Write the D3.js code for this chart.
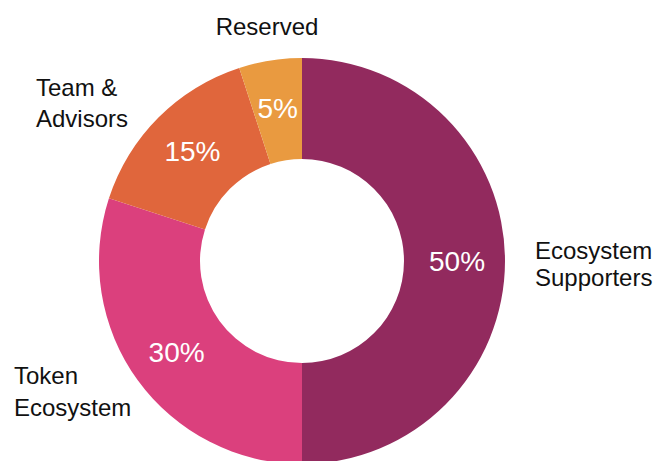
<!DOCTYPE html>
<html lang="en">
<head>
    <meta charset="UTF-8">
    <title>Token Allocation</title>
    <script src="https://d3js.org/d3.v7.min.js"></script>
    <style>
        body { margin: 0; background: #ffffff; }
        svg { display: block; }
        .pct { fill: #ffffff; font-family: "Liberation Sans", Arial, sans-serif; font-size: 28px; }
        .name { fill: #111111; font-family: "Liberation Sans", Arial, sans-serif; font-size: 24px; }
    </style>
</head>
<body>
    <svg width="662" height="461"></svg>

    <script>
        // data
        const categories = ["Ecosystem Supporters", "Token Ecosystem", "Team & Advisors", "Reserved"];
        const shares = [50, 30, 15, 5];
        const colors = ["#922a5e", "#db407d", "#e0663c", "#e99a40"];

        const svg = d3.select("svg");
        const cx = 302, cy = 261;
        const outerR = 203, innerR = 102;

        const data = categories.map((c, i) => ({ name: c, value: shares[i], color: colors[i] }));
        const pie = d3.pie().value(d => d.value).sort(null);
        const arc = d3.arc().innerRadius(innerR).outerRadius(outerR);
        const labelArc = d3.arc().innerRadius(155).outerRadius(155);

        const g = svg.append("g").attr("transform", `translate(${cx},${cy})`);
        const arcs = pie(data);

        g.selectAll("path")
            .data(arcs)
            .join("path")
            .attr("d", arc)
            .attr("fill", d => d.data.color);

        g.selectAll("text.pct")
            .data(arcs)
            .join("text")
            .attr("class", "pct")
            .attr("text-anchor", "middle")
            .attr("dy", "0.36em")
            .attr("transform", d => `translate(${labelArc.centroid(d)})`)
            .text(d => d.data.value + "%");

        // outside labels
        const nameLines = {
            "Ecosystem Supporters": { lines: ["Ecosystem", "Supporters"], x: 535, y: 259, gap: 27, anchor: "start" },
            "Token Ecosystem": { lines: ["Token", "Ecosystem"], x: 14, y: 384, gap: 32, anchor: "start" },
            "Team & Advisors": { lines: ["Team &", "Advisors"], x: 36, y: 96, gap: 31, anchor: "start" },
            "Reserved": { lines: ["Reserved"], x: 267, y: 35, gap: 0, anchor: "middle" }
        };

        data.forEach(d => {
            const p = nameLines[d.name];
            const t = svg.append("text")
                .attr("class", "name")
                .attr("text-anchor", p.anchor);
            p.lines.forEach((line, i) => {
                t.append("tspan")
                    .attr("x", p.x)
                    .attr("y", p.y + i * p.gap)
                    .text(line);
            });
        });
    </script>
</body>
</html>
